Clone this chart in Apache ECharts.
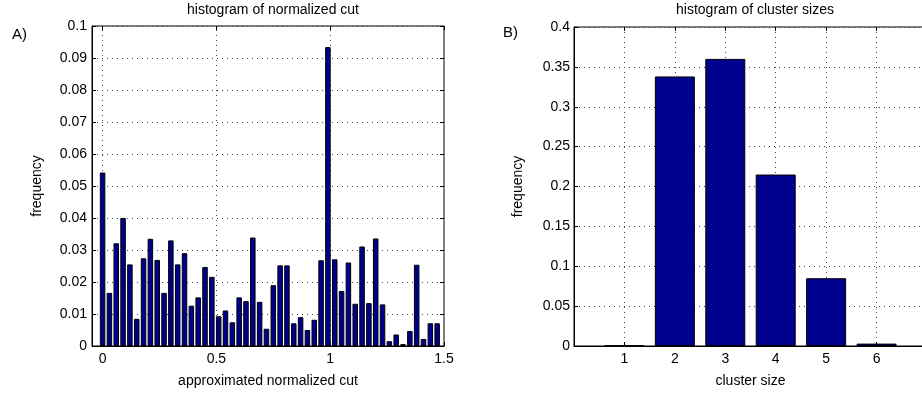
<!DOCTYPE html>
<html>
<head>
<meta charset="utf-8">
<script src="https://cdn.jsdelivr.net/npm/echarts@6/dist/echarts.min.js"></script>
<style>
  html, body { margin: 0; padding: 0; background: #fff; }
  #chart { width: 922px; height: 394px; }
</style>
</head>
<body>
<div id="chart"></div>
<script>
// A) histogram of normalized cut
const cutBins = [0, 0.03, 0.06, 0.09, 0.12, 0.15, 0.18, 0.21, 0.24, 0.27,
  0.30, 0.33, 0.36, 0.39, 0.42, 0.45, 0.48, 0.51, 0.54, 0.57,
  0.60, 0.63, 0.66, 0.69, 0.72, 0.75, 0.78, 0.81, 0.84, 0.87,
  0.90, 0.93, 0.96, 0.99, 1.02, 1.05, 1.08, 1.11, 1.14, 1.17,
  1.20, 1.23, 1.26, 1.29, 1.32, 1.35, 1.38, 1.41, 1.44, 1.47];
const cutFreq = [0.0542, 0.0166, 0.0321, 0.0400, 0.0255, 0.0085, 0.0274, 0.0335, 0.0269, 0.0166,
  0.0330, 0.0255, 0.0290, 0.0126, 0.0152, 0.0247, 0.0216, 0.0093, 0.0111, 0.0074,
  0.0152, 0.0140, 0.0339, 0.0138, 0.0054, 0.0190, 0.0252, 0.0252, 0.0071, 0.0090,
  0.0050, 0.0082, 0.0268, 0.0934, 0.0271, 0.0172, 0.0261, 0.0132, 0.0311, 0.0134,
  0.0336, 0.0130, 0.0015, 0.0036, 0.0006, 0.0047, 0.0254, 0.0022, 0.0071, 0.0071];
const cutTicks = [0, 0.5, 1, 1.5];
const cutYMax = 0.1;

// B) histogram of cluster sizes
const sizeBins = [1, 2, 3, 4, 5, 6];
const sizeFreq = [0.0005, 0.338, 0.360, 0.215, 0.085, 0.003];
const sizeTicks = ['1', '2', '3', '4', '5', '6'];

const font = 'Liberation Sans, Arial, Helvetica, sans-serif';
const dotted = { color: '#444', width: 1, type: [1, 4] };
const barColor = '#00008f';

const chart = echarts.init(document.getElementById('chart'), null, { renderer: 'canvas' });

// hidden mirror axes give the inward ticks on the top and right edges of each box
const mirrorX = (grid, extra) => Object.assign({
  type: 'value', gridIndex: grid, position: 'top',
  axisLine: { show: false, onZero: false },
  axisTick: { show: true, inside: true, length: 4, lineStyle: { color: '#000' } },
  axisLabel: { show: false }, splitLine: { show: false }
}, extra);
const mirrorY = (grid, extra) => Object.assign({
  type: 'value', gridIndex: grid, position: 'right',
  axisLine: { show: false, onZero: false },
  axisTick: { show: true, inside: true, length: 4, lineStyle: { color: '#000' } },
  axisLabel: { show: false }, splitLine: { show: false }
}, extra);

const option = {
  animation: false,
  backgroundColor: '#fff',
  textStyle: { fontFamily: font, color: '#000' },
  title: [
    { text: 'histogram of normalized cut', left: 268, top: -2, textAlign: 'center',
      textStyle: { fontSize: 14, fontWeight: 'normal', color: '#000', fontFamily: font } },
    { text: 'histogram of cluster sizes', left: 750, top: -2, textAlign: 'center',
      textStyle: { fontSize: 14, fontWeight: 'normal', color: '#000', fontFamily: font } },
    { text: 'A)', left: 7, top: 22,
      textStyle: { fontSize: 15, fontWeight: 'normal', color: '#000', fontFamily: font } },
    { text: 'B)', left: 498, top: 20,
      textStyle: { fontSize: 15, fontWeight: 'normal', color: '#000', fontFamily: font } }
  ],
  grid: [
    { left: 92, top: 26, width: 352, height: 320, show: true, borderColor: '#000', borderWidth: 1,
      outerBoundsMode: 'none' },
    { left: 574, top: 27, width: 353, height: 319, show: true, borderColor: '#000', borderWidth: 1,
      outerBoundsMode: 'none' }
  ],
  xAxis: [
    {
      type: 'value', gridIndex: 0, min: -0.0465, max: 1.5,
      name: 'approximated normalized cut', nameLocation: 'middle', nameGap: 28,
      nameTextStyle: { fontSize: 14, color: '#000' },
      axisLine: { show: true, onZero: false, lineStyle: { color: '#000' } },
      axisTick: { show: true, inside: true, length: 4, customValues: cutTicks, lineStyle: { color: '#000' } },
      axisLabel: { fontSize: 14, color: '#000', margin: 6, customValues: cutTicks },
      splitLine: { show: false }
    },
    {
      type: 'value', gridIndex: 1, min: 0, max: 7, interval: 1,
      name: 'cluster size', nameLocation: 'middle', nameGap: 28,
      nameTextStyle: { fontSize: 14, color: '#000' },
      axisLine: { show: true, onZero: false, lineStyle: { color: '#000' } },
      axisTick: { show: true, inside: true, length: 4, lineStyle: { color: '#000' } },
      axisLabel: {
        fontSize: 14, color: '#000', margin: 6,
        formatter: v => (sizeTicks.indexOf(String(v)) >= 0 ? String(v) : '')
      },
      splitLine: { show: true, lineStyle: dotted }
    },
    mirrorX(0, { min: -0.0465, max: 1.5,
      axisTick: { show: true, inside: true, length: 4, customValues: cutTicks, lineStyle: { color: '#000' } } }),
    mirrorX(1, { min: 0, max: 7, interval: 1 })
  ],
  yAxis: [
    {
      type: 'value', gridIndex: 0, min: 0, max: cutYMax, interval: 0.01,
      name: 'frequency', nameLocation: 'middle', nameGap: 48,
      nameTextStyle: { fontSize: 14, color: '#000' },
      axisLine: { show: true, onZero: false, lineStyle: { color: '#000' } },
      axisTick: { show: true, inside: true, length: 4, lineStyle: { color: '#000' } },
      axisLabel: { fontSize: 14, color: '#000', margin: 5 },
      splitLine: { show: true, lineStyle: dotted }
    },
    {
      type: 'value', gridIndex: 1, min: 0, max: 0.4, interval: 0.05,
      name: 'frequency', nameLocation: 'middle', nameGap: 49,
      nameTextStyle: { fontSize: 14, color: '#000' },
      axisLine: { show: true, onZero: false, lineStyle: { color: '#000' } },
      axisTick: { show: true, inside: true, length: 4, lineStyle: { color: '#000' } },
      axisLabel: { fontSize: 14, color: '#000', margin: 4 },
      splitLine: { show: true, lineStyle: dotted }
    },
    mirrorY(0, { min: 0, max: cutYMax, interval: 0.01 }),
    mirrorY(1, { min: 0, max: 0.4, interval: 0.05 })
  ],
  series: [
    {
      name: 'normalized cut', type: 'bar', xAxisIndex: 0, yAxisIndex: 0,
      barWidth: 5.5,
      itemStyle: { color: barColor, borderColor: '#000', borderWidth: 1 },
      data: cutBins.map((x, i) => [x, cutFreq[i]]),
      markLine: {
        silent: true, symbol: 'none', label: { show: false },
        lineStyle: dotted, z: 0,
        // vertical grid lines at the x ticks inside the box
        data: cutTicks.slice(0, 3).map(v => [{ coord: [v, 0] }, { coord: [v, cutYMax] }])
      }
    },
    {
      name: 'cluster sizes', type: 'bar', xAxisIndex: 1, yAxisIndex: 1,
      barWidth: 40,
      itemStyle: { color: barColor, borderColor: '#000', borderWidth: 1 },
      data: sizeBins.map((x, i) => [x, sizeFreq[i]])
    }
  ]
};

chart.setOption(option);
</script>
</body>
</html>
